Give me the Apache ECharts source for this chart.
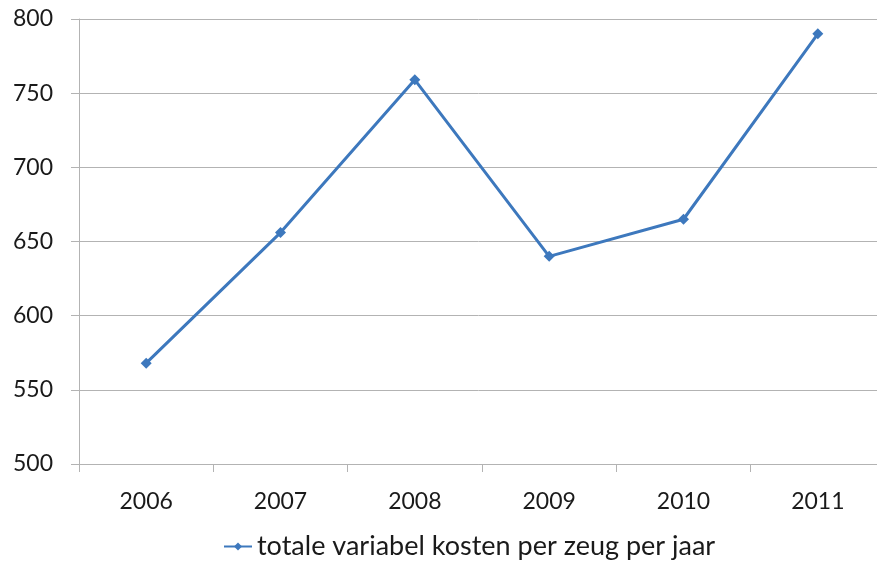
<!DOCTYPE html>
<html>
<head>
<meta charset="utf-8">
<script src="https://cdn.jsdelivr.net/npm/echarts@6/dist/echarts.min.js"></script>
<style>
  html, body { margin: 0; padding: 0; background: #fff; }
  #main { width: 877px; height: 561px; }
</style>
</head>
<body>
<div id="main"></div>
<script>
var years = ['2006', '2007', '2008', '2009', '2010', '2011'];
var kosten = [568, 656, 759, 640, 665, 790];
var seriesName = 'totale variabel kosten per zeug per jaar';

var chart = echarts.init(document.getElementById('main'));
var lineColor = '#3d78bd';
var gridColor = '#b3b3b3';

chart.setOption({
    animation: false,
    textStyle: { fontFamily: 'Lato' },
    grid: {
        left: 79, width: 806, top: 19, height: 445,
        containLabel: false, outerBoundsMode: 'none'
    },
    xAxis: {
        type: 'category',
        data: years,
        boundaryGap: true,
        axisLine: { lineStyle: { color: gridColor, width: 1 } },
        axisTick: { show: true, length: 8, lineStyle: { color: gridColor } },
        axisLabel: { color: '#1a1a1a', fontSize: 23, margin: 26 }
    },
    yAxis: {
        type: 'value',
        min: 500,
        max: 800,
        interval: 50,
        axisLine: { show: true, lineStyle: { color: gridColor, width: 1 } },
        axisTick: { show: true, length: 8, lineStyle: { color: gridColor } },
        splitLine: { lineStyle: { color: gridColor, width: 1 } },
        axisLabel: { color: '#1a1a1a', fontSize: 23, margin: 26 }
    },
    legend: {
        bottom: -4,
        left: 218,
        itemWidth: 28,
        itemHeight: 10,
        itemGap: 3,
        textStyle: { color: '#1a1a1a', fontSize: 27 },
        data: [seriesName]
    },
    series: [{
        name: seriesName,
        type: 'line',
        data: kosten,
        symbol: 'diamond',
        symbolSize: 11,
        lineStyle: { color: lineColor, width: 3 },
        itemStyle: { color: lineColor }
    }]
});
</script>
</body>
</html>
